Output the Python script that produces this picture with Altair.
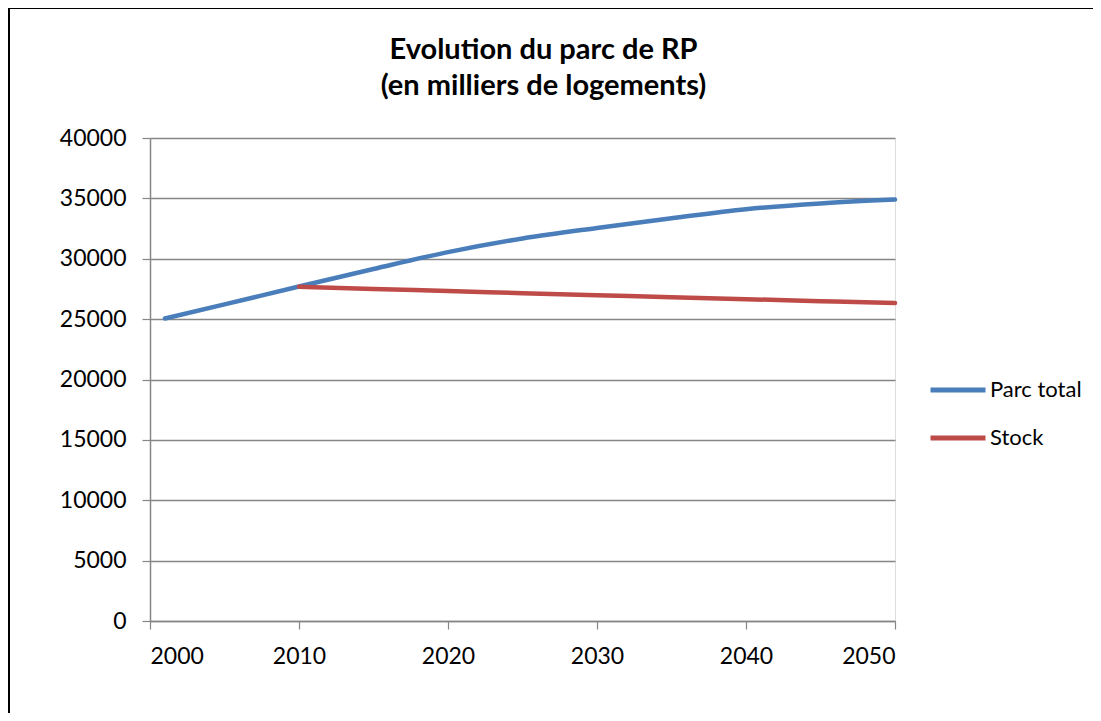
import altair as alt
import pandas as pd

total_years = [2001, 2005, 2010, 2015, 2020, 2025, 2030, 2035, 2040, 2045, 2050]
total_vals = [25050, 26220, 27700, 29150, 30550, 31680, 32550, 33350, 34100, 34580, 34900]

stock_years = [2010, 2015, 2020, 2025, 2030, 2035, 2040, 2045, 2050]
stock_vals = [27680, 27490, 27330, 27150, 26980, 26810, 26650, 26490, 26340]

series_names = ["Parc total", "Stock"]
series_colors = ["#4a7ebb", "#be4b48"]

df = pd.concat([
    pd.DataFrame({"year": total_years, "value": total_vals, "series": series_names[0]}),
    pd.DataFrame({"year": stock_years, "value": stock_vals, "series": series_names[1]}),
])

FONT = "Lato"

base_frame = alt.Chart(pd.DataFrame({"a": [0]}))
frame_left = base_frame.mark_rule(stroke="#000000", strokeWidth=2, clip=False).encode(
    x=alt.value(-141), y=alt.value(-131), y2=alt.value(575),
)
frame_top = base_frame.mark_rule(stroke="#000000", strokeWidth=2, clip=False).encode(
    x=alt.value(-142), x2=alt.value(943), y=alt.value(-130),
)

lines = alt.Chart(df).mark_line(
    strokeWidth=4.5, strokeCap="round", interpolate="monotone"
).encode(
    x=alt.X("year:Q",
            scale=alt.Scale(domain=[2000, 2050], nice=False, zero=False),
            axis=alt.Axis(values=[2000, 2010, 2020, 2030, 2040, 2050], format="d",
                          title=None, grid=False, tickSize=8, labelPadding=16,
                          labelFontSize=23, labelFont=FONT, labelColor="#000000",
                          domainColor="#868686", tickColor="#868686",
                          domainWidth=1.5, tickWidth=1.2)),
    y=alt.Y("value:Q",
            scale=alt.Scale(domain=[0, 40000], nice=False),
            axis=alt.Axis(values=list(range(0, 40001, 5000)), format="d",
                          title=None, grid=True, gridColor="#868686", gridWidth=1.5,
                          tickSize=8, labelPadding=16,
                          labelFontSize=23, labelFont=FONT, labelColor="#000000",
                          domainColor="#868686", tickColor="#868686",
                          domainWidth=1.5, tickWidth=1.2)),
    color=alt.Color("series:N",
                    scale=alt.Scale(domain=series_names, range=series_colors),
                    legend=alt.Legend(title=None, orient="none", legendX=778, legendY=222,
                                      symbolType="stroke", symbolSize=3025,
                                      symbolStrokeWidth=5, labelFontSize=22,
                                      labelFont=FONT, labelColor="#000000",
                                      rowPadding=7, labelOffset=2)),
)

chart = alt.layer(frame_left, frame_top, lines).properties(
    width=745,
    height=483,
    autosize=alt.AutoSizeParams(type="none"),
    padding={"left": 142, "top": 130, "right": 198, "bottom": 92},
    title=alt.TitleParams(
        text=["Evolution du parc de RP", "(en milliers de logements)"],
        fontSize=29, fontWeight="bold", font=FONT, color="#000000",
        anchor="middle", dx=21, dy=117, lineHeight=36, offset=22,
    ),
).configure_view(stroke=None).configure(background="#ffffff")

chart.save("out.html", embed_options={"renderer": "svg", "actions": False})
